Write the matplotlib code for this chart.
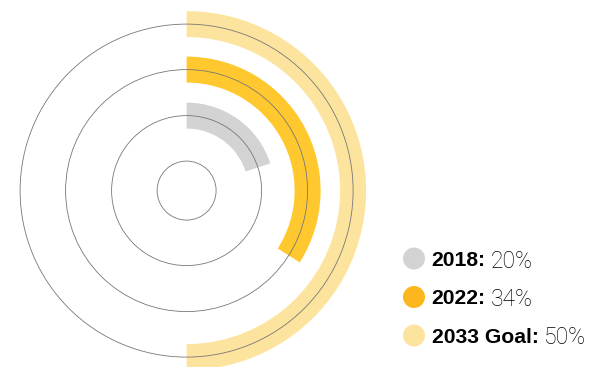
import matplotlib
matplotlib.use("Agg")
import matplotlib.pyplot as plt
from matplotlib.patches import Wedge, Circle

# Share of target reached, by year
labels = ["2018:", "2022:", "2033 Goal:"]
values = [20, 34, 50]
value_text = ["20%", "34%", "50%"]
arc_colors = ["#d3d3d3", "#ffc82e", "#fde49e"]
dot_colors = ["#d3d3d3", "#fdb71e", "#fde49e"]

W, H = 594, 367
fig = plt.figure(figsize=(W / 100, H / 100), dpi=100)
ax = fig.add_axes([0, 0, 1, 1])
ax.set_xlim(0, W)
ax.set_ylim(0, H)
ax.set_aspect("equal")
ax.axis("off")

cx, cy = 186.6, H - 190.6
ring_r = [75.0, 121.0, 166.5]
band = 26

# arcs run clockwise from 12 o'clock
for r, v, c in zip(ring_r, values, arc_colors):
    ax.add_patch(Wedge((cx, cy), r + band / 2, 90 - 360 * v / 100, 90,
                       width=band, facecolor=c, edgecolor="none"))

# thin guide circles
for r in [29.5] + ring_r:
    ax.add_patch(Circle((cx, cy), r, fill=False, edgecolor="#777777", lw=0.6))

# legend with bold label and light value
renderer = fig.canvas.get_renderer()
rows_y = [258.5, 297, 335.5]
for lab, vt, c, y in zip(labels, value_text, dot_colors, rows_y):
    ax.add_patch(Circle((414, H - y), 11, facecolor=c, edgecolor="none"))
    t = ax.text(431.5, H - y, lab, fontsize=15.2, fontweight="bold",
                family="Liberation Sans", va="center_baseline", ha="left")
    bb = t.get_window_extent(renderer)
    ax.text(bb.x1 + 5, H - y, vt, fontsize=16.5, fontweight="light",
            family=["Roboto", "Liberation Sans"], color="#000000",
            va="center_baseline", ha="left")

fig.savefig("out.png", dpi=100)
